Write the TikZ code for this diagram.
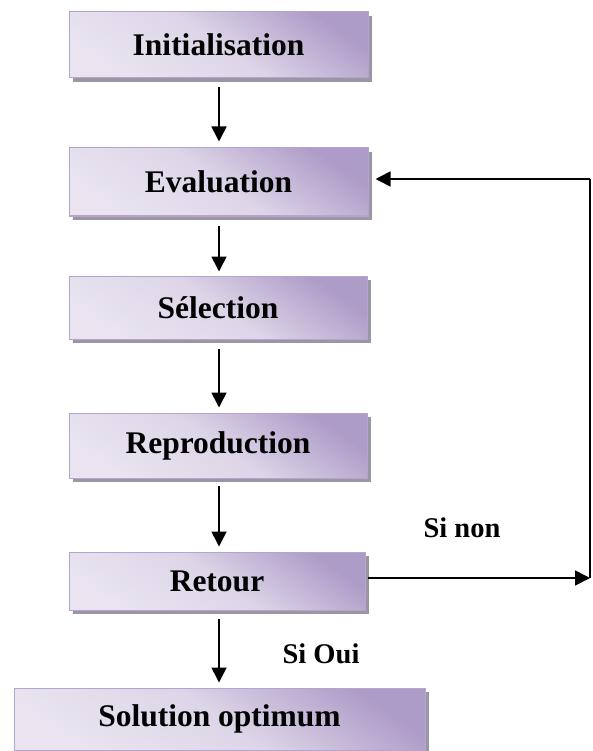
\documentclass[tikz,border=0pt]{standalone}
\usepackage{fontspec}
\setmainfont{Liberation Serif}
\usetikzlibrary{arrows.meta,shadows}
\definecolor{boxdark}{HTML}{AE9CC8}
\definecolor{boxlight}{HTML}{E9E4F0}
\definecolor{boxedge}{HTML}{B4A5CC}
\definecolor{shadowgray}{HTML}{9C95A6}
\tikzset{
  stepbox/.style={draw=boxedge, line width=1pt,
    top color=boxdark, bottom color=boxlight, middle color=boxlight!80!boxdark, shading angle=-35,
    drop shadow={shadow xshift=4pt, shadow yshift=-4pt, fill=shadowgray, opacity=1},
    font=\fontsize{31.5}{36}\selectfont\bfseries, inner sep=0pt},
  arr/.style={line width=1.6pt, -{Triangle[length=15pt,width=15pt]}},
  plain/.style={line width=1.6pt},
  lbl/.style={font=\fontsize{28.5}{32}\selectfont\bfseries, inner sep=0pt}
}
\begin{document}
\begin{tikzpicture}[x=1pt,y=-1pt]
\useasboundingbox (0,0) rectangle (592,751);
\node[stepbox, minimum width=299pt, minimum height=66pt] (init) at (218.5,45) {Initialisation};
\node[stepbox, minimum width=299pt, minimum height=68pt] (eval) at (218.5,182) {Evaluation};
\node[stepbox, minimum width=298pt, minimum height=63pt] (sel) at (218,307.5) {Sélection};
\node[stepbox, minimum width=298pt, minimum height=65pt] (rep) at (218,445.5) {Reproduction};
\node[stepbox, minimum width=296pt, minimum height=58pt] (ret) at (217,581) {Retour};
\node[stepbox, minimum width=411pt, minimum height=62pt] (sol) at (219.5,719) {Solution optimum};
\node[lbl] (nonlbl) at (462,528) {Si non};
\node[lbl] (ouilbl) at (321,654) {Si Oui};
\coordinate (c1) at (590,578);
\coordinate (c2) at (590,179);
\draw[arr, shorten <=9pt, shorten >=6pt] (init.south -| 219,0) -- (eval.north -| 219,0);
\draw[arr, shorten <=9pt, shorten >=4pt] (eval.south -| 219,0) -- (sel.north -| 219,0);
\draw[arr, shorten <=9pt, shorten >=5pt] (sel.south -| 219,0) -- (rep.north -| 219,0);
\draw[arr, shorten <=7pt, shorten >=5pt] (rep.south -| 219,0) -- (ret.north -| 219,0);
\draw[arr, shorten <=8pt, shorten >=5pt] (ret.south -| 219,0) -- (sol.north -| 219,0);
\draw[plain] (c1) -- (c2);
\draw[arr, shorten <=-1pt] (ret.east |- c1) ++(3pt,0) -- (c1);
\draw[arr, shorten >=7pt] (c2) -- (eval.east |- c2);
\end{tikzpicture}
\end{document}
